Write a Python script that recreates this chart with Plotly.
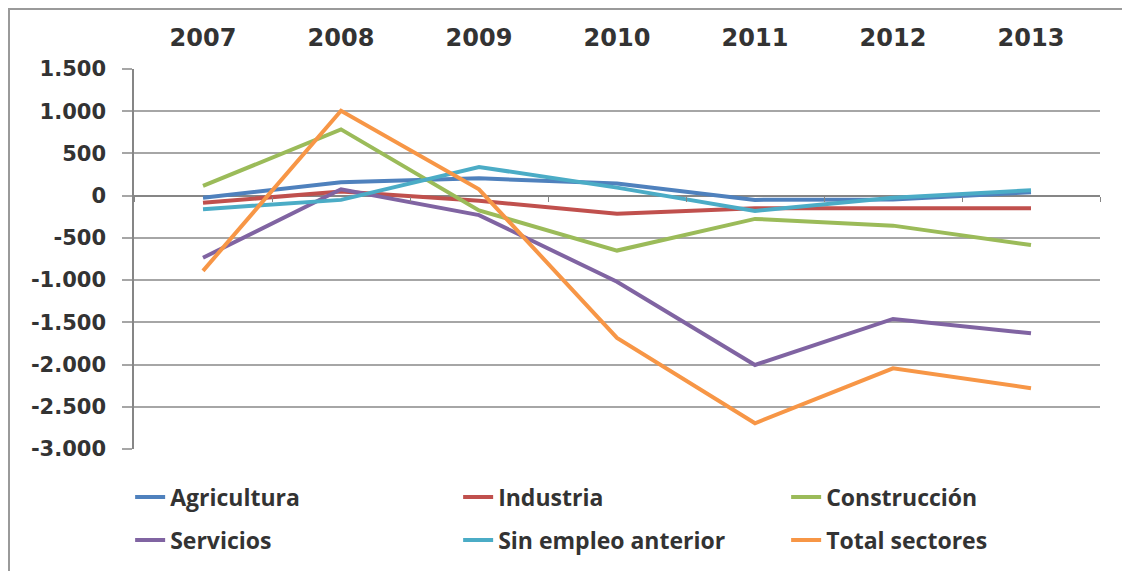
import plotly.graph_objects as go

years = ["2007", "2008", "2009", "2010", "2011", "2012", "2013"]

agricultura = [-25, 160, 205, 145, -50, -45, 40]
industria = [-85, 50, -60, -215, -150, -145, -150]
construccion = [115, 785, -175, -650, -275, -355, -585]
servicios = [-735, 75, -230, -1020, -2005, -1460, -1630]
sin_empleo = [-160, -50, 340, 95, -180, -25, 65]
total_sectores = [-890, 1005, 75, -1685, -2695, -2045, -2280]

y_ticks = [1500, 1000, 500, 0, -500, -1000, -1500, -2000, -2500, -3000]
y_tick_labels = ["1.500", "1.000", "500", "0", "-500", "-1.000", "-1.500", "-2.000", "-2.500", "-3.000"]

series = [
    ("Agricultura", agricultura, "#4F81BD", "legend"),
    ("Industria", industria, "#C0504D", "legend"),
    ("Construcción", construccion, "#9BBB59", "legend"),
    ("Servicios", servicios, "#8064A2", "legend2"),
    ("Sin empleo anterior", sin_empleo, "#4BACC6", "legend2"),
    ("Total sectores", total_sectores, "#F79646", "legend2"),
]

grid_color = "#A6A6A6"
text_color = "#333333"

# the page body adds 8px, so the figure is a bit smaller than the window
plot_left, plot_top, plot_w, plot_h = 134, 69, 966, 380

fig = go.Figure()

for name, values, color, legend in series:
    fig.add_trace(
        go.Scatter(
            x=years,
            y=values,
            name=name,
            mode="lines",
            line=dict(color=color, width=4),
            legend=legend,
        )
    )

# overlay axis just for the tick marks on the zero line
fig.add_trace(go.Scatter(x=[None], y=[None], xaxis="x2", showlegend=False, hoverinfo="skip"))

legend_common = dict(
    orientation="h",
    xanchor="left",
    yanchor="middle",
    x=-0.004,
    entrywidth=283,
    entrywidthmode="pixels",
    font=dict(family="Open Sans", size=23, color=text_color, weight=700),
    bgcolor="rgba(0,0,0,0)",
)

# frame of the original chart area
frame = dict(
    type="rect",
    xref="paper",
    yref="paper",
    x0=(9 - plot_left) / plot_w,
    x1=(1145 - plot_left) / plot_w,
    y0=(plot_top + plot_h - 590) / plot_h,
    y1=(plot_top + plot_h - 9) / plot_h,
    line=dict(color="#9A9A9A", width=2),
    layer="below",
)

fig.update_layout(
    width=1122,
    height=563,
    margin=dict(l=plot_left - 8, r=1122 - (plot_left - 8) - plot_w, t=plot_top - 8,
                b=563 - (plot_top - 8) - plot_h, autoexpand=False),
    paper_bgcolor="white",
    plot_bgcolor="white",
    showlegend=True,
    legend=dict(legend_common, y=(449 - 497) / plot_h),
    legend2=dict(legend_common, y=(449 - 540) / plot_h),
    shapes=[frame],
    xaxis=dict(
        type="category",
        side="top",
        range=[-0.5, 6.5],
        automargin=False,
        showgrid=False,
        showline=False,
        zeroline=False,
        ticks="",
        ticklabelstandoff=17,
        tickfont=dict(family="DejaVu Sans", size=24, color=text_color, weight="bold"),
    ),
    xaxis2=dict(
        overlaying="x",
        anchor="free",
        position=2 / 3,
        range=[-0.5, 6.5],
        automargin=False,
        showgrid=False,
        showline=False,
        zeroline=False,
        showticklabels=False,
        ticks="outside",
        ticklen=5,
        tickcolor="#868686",
        tickvals=[-0.5, 0.5, 1.5, 2.5, 3.5, 4.5, 5.5, 6.5],
    ),
    yaxis=dict(
        range=[-3000, 1500],
        automargin=False,
        tickvals=y_ticks,
        ticktext=y_tick_labels,
        showgrid=True,
        gridcolor=grid_color,
        gridwidth=1.5,
        zeroline=True,
        zerolinecolor="#868686",
        zerolinewidth=1.5,
        showline=True,
        linecolor="#868686",
        linewidth=1.5,
        ticks="outside",
        ticklen=10,
        tickcolor=grid_color,
        tickwidth=1.5,
        ticklabelstandoff=12,
        tickfont=dict(family="DejaVu Sans", size=21, color=text_color, weight="bold"),
    ),
)

fig.write_html("out.html")
